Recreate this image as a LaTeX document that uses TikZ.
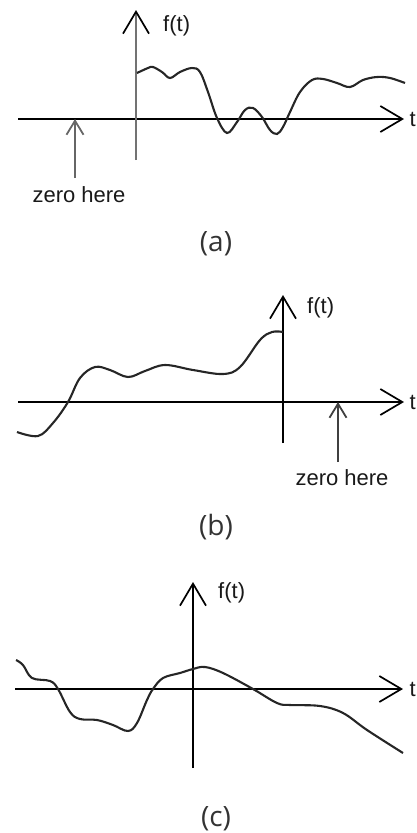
\documentclass[tikz,border=0pt]{standalone}
\usepackage{fontspec}
\setmainfont{Liberation Sans}
\newfontfamily\capfont{Open Sans}
\usetikzlibrary{arrows.meta}

\begin{document}
\begin{tikzpicture}[x=1pt, y=-1pt,
    axis/.style={line width=1.6pt, -{Straight Barb[length=22pt, width=26pt, line width=1.7pt]}},
    marker/.style={draw=black!60, line width=2.6pt, -{Straight Barb[length=14pt, width=17pt, line width=1.8pt]}},
    signal/.style={line width=2.1pt, draw=black!85, smooth, tension=0.6},
    lbl/.style={inner sep=0pt, text=black!90, font=\fontsize{22}{26}\selectfont},
    caption/.style={inner sep=0pt, text=black!80, font=\capfont\fontsize{28}{32}\selectfont}]
    \useasboundingbox (0,0) rectangle (416,833);

    % (a) signal starting after zero
    \coordinate (a-left) at (18,119);
    \coordinate (a-right) at (404,119);
    \coordinate (a-bottom) at (136,160);
    \coordinate (a-top) at (136,10);
    \coordinate (a-zero) at (75,119);
    \coordinate (a-foot) at (75,178);
    \draw[axis] (a-left) -- (a-right);
    \draw[axis, draw=black!55, line width=2.8pt, -{Straight Barb[length=22pt, width=26pt, line width=1.7pt, color=black]}] (a-bottom) -- (a-top);
    \node[lbl, anchor=west] (fa) at (163,26) {f(t)};
    \node[lbl, anchor=west] (ta) at (409.5,119) {t};
    \node[lbl] (za) at (79,195) {zero here};
    \draw[marker] (a-foot) -- (a-zero);
    \draw[signal] plot coordinates {(137,73) (148,68) (153,67) (162,72) (170,78) (180,72) (192,68)
        (200,72) (208,92) (217,118) (227,133) (237,122) (245,110) (253,108) (262,117) (270,130)
        (277,134) (283,127) (290,112) (300,92) (312,80) (323,79) (337,83) (350,87) (363,80)
        (377,77) (390,78) (405,83)};
    \node[caption] (capa) at (216,244) {(a)};

    % (b) signal ending before zero
    \coordinate (b-left) at (18,402);
    \coordinate (b-right) at (404,402);
    \coordinate (b-bottom) at (283,443);
    \coordinate (b-top) at (283,295);
    \coordinate (b-zero) at (338,402);
    \coordinate (b-foot) at (338,462);
    \draw[axis] (b-left) -- (b-right);
    \draw[axis] (b-bottom) -- (b-top);
    \node[lbl, anchor=west] (fb) at (307,308) {f(t)};
    \node[lbl, anchor=west] (tb) at (409.5,402) {t};
    \node[lbl] (zb) at (342,478) {zero here};
    \draw[marker, draw=black!75] (b-foot) -- (b-zero);
    \draw[signal] plot coordinates {(17,432) (38,436) (53,423) (68,402) (80,378) (95,367) (110,370)
        (128,377) (145,371) (165,365) (193,370) (223,374) (240,367) (260,340) (272,332) (283,332)};
    \node[caption] (capb) at (216,527) {(b)};

    % (c) signal on both sides
    \coordinate (c-left) at (15,689);
    \coordinate (c-right) at (403,689);
    \coordinate (c-bottom) at (193,768);
    \coordinate (c-top) at (193,582);
    \draw[axis] (c-left) -- (c-right);
    \draw[axis] (c-bottom) -- (c-top);
    \node[lbl, anchor=west] (fc) at (218,593) {f(t)};
    \node[lbl, anchor=west] (tc) at (409.5,689) {t};
    \draw[signal] plot coordinates {(16,660) (23,665) (32,678) (50,681) (58,689) (70,712) (80,719)
        (97,720) (113,725) (128,731) (137,723) (147,700) (153,689) (163,678) (180,673) (193,669)
        (205,667) (223,673) (253,689) (277,703) (290,705) (320,706) (343,713) (367,730) (403,753)};
    \node[caption] (capc) at (216,819) {(c)};
\end{tikzpicture}
\end{document}
